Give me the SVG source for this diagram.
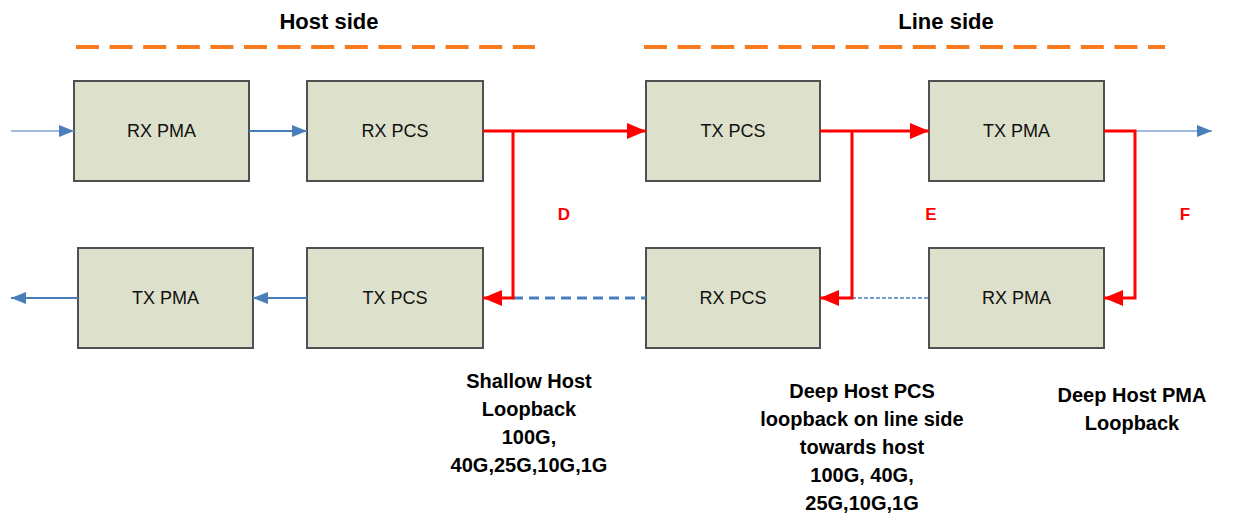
<svg xmlns="http://www.w3.org/2000/svg" width="1241" height="515" viewBox="0 0 1241 515">
<style>
.box{fill:#dde0ca;stroke:#505050;stroke-width:2}
.bt{font-family:"Liberation Sans",Arial,sans-serif;font-size:18px;fill:#111;text-anchor:middle}
.hd{font-family:"Liberation Sans",Arial,sans-serif;font-size:22px;font-weight:bold;fill:#000;text-anchor:middle}
.lb{font-family:"Liberation Sans",Arial,sans-serif;font-size:20px;font-weight:bold;fill:#000;text-anchor:middle}
.rl{font-family:"Liberation Sans",Arial,sans-serif;font-size:17px;font-weight:bold;fill:#ff0000;text-anchor:middle}
.red{fill:none;stroke:#ff0000;stroke-width:3}
.blue{fill:none;stroke:#4a7ebb;stroke-width:2}
.blueThin{fill:none;stroke:#7ea3d3;stroke-width:1.5}
.orange{fill:none;stroke:#f77a1e;stroke-width:4;stroke-dasharray:23 10.6}
</style>
<defs>
<marker id="ab" markerUnits="userSpaceOnUse" markerWidth="16" markerHeight="12" refX="15" refY="6" orient="auto"><path d="M0,0 L15,6 L0,12 Z" fill="#4a7ebb"/></marker>
<marker id="ar" markerUnits="userSpaceOnUse" markerWidth="20" markerHeight="16" refX="19" refY="8" orient="auto"><path d="M0,0 L19,8 L0,16 Z" fill="#ff0000"/></marker>
</defs>

<g id="headers">
<text class="hd" x="329" y="29">Host side</text>
<text class="hd" x="946" y="29">Line side</text>
<path class="orange" d="M76,47 H535"/>
<path class="orange" d="M644,47 H1165"/>
</g>

<g id="rx-pma-host"><rect class="box" x="74" y="81" width="175" height="100"/><text class="bt" x="161.5" y="137">RX PMA</text></g>
<g id="rx-pcs-host"><rect class="box" x="307" y="81" width="176" height="100"/><text class="bt" x="395" y="137">RX PCS</text></g>
<g id="tx-pcs-line"><rect class="box" x="646" y="81" width="174" height="100"/><text class="bt" x="733" y="137">TX PCS</text></g>
<g id="tx-pma-line"><rect class="box" x="929" y="81" width="175" height="100"/><text class="bt" x="1016.5" y="137">TX PMA</text></g>
<g id="tx-pma-host"><rect class="box" x="78" y="248" width="175" height="100"/><text class="bt" x="165.5" y="304">TX PMA</text></g>
<g id="tx-pcs-host"><rect class="box" x="307" y="248" width="176" height="100"/><text class="bt" x="395" y="304">TX PCS</text></g>
<g id="rx-pcs-line"><rect class="box" x="646" y="248" width="174" height="100"/><text class="bt" x="733" y="304">RX PCS</text></g>
<g id="rx-pma-line"><rect class="box" x="929" y="248" width="175" height="100"/><text class="bt" x="1016.5" y="304">RX PMA</text></g>

<g id="connectors">
<path class="blueThin" d="M11,131 H74" marker-end="url(#ab)"/>
<path class="blue" d="M249,131 H307" marker-end="url(#ab)"/>
<path class="blue" d="M307,298 H253" marker-end="url(#ab)"/>
<path class="blue" d="M78,298 H11" marker-end="url(#ab)"/>
<path class="blueThin" d="M1135,131 H1212" marker-end="url(#ab)"/>
<path fill="none" stroke="#4a7ebb" stroke-width="3" stroke-dasharray="10 6" d="M513,298 H646"/>
<path fill="none" stroke="#4a7ebb" stroke-width="1.5" stroke-dasharray="4 2" d="M852,298 H929"/>
<path class="red" d="M483,131 H646" marker-end="url(#ar)"/>
<path class="red" d="M513,131 V298 H483" marker-end="url(#ar)"/>
<path class="red" d="M820,131 H929" marker-end="url(#ar)"/>
<path class="red" d="M852,131 V298 H820" marker-end="url(#ar)"/>
<path class="red" d="M1104,131 H1135 V298 H1104" marker-end="url(#ar)"/>
</g>

<g id="labels">
<text class="rl" x="564" y="220">D</text>
<text class="rl" x="931" y="220">E</text>
<text class="rl" x="1185" y="220">F</text>
<text class="lb" x="529" y="388">Shallow Host</text>
<text class="lb" x="529" y="416">Loopback</text>
<text class="lb" x="529" y="444">100G,</text>
<text class="lb" x="529" y="472">40G,25G,10G,1G</text>
<text class="lb" x="862" y="398">Deep Host PCS</text>
<text class="lb" x="862" y="426">loopback on line side</text>
<text class="lb" x="862" y="454">towards host</text>
<text class="lb" x="862" y="482">100G, 40G,</text>
<text class="lb" x="862" y="510">25G,10G,1G</text>
<text class="lb" x="1132" y="402">Deep Host PMA</text>
<text class="lb" x="1132" y="430">Loopback</text>
</g>
</svg>
